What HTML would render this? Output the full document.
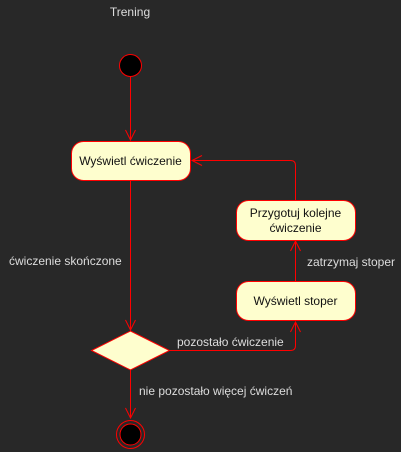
<!DOCTYPE html>
<html><head><meta charset="utf-8"><style>
html,body{margin:0;padding:0;background:#282828;}
svg{display:block;}
text{font-family:"Liberation Sans",sans-serif;font-size:12px;}
</style></head><body>
<svg width="401" height="452" viewBox="0 0 401 452" xmlns="http://www.w3.org/2000/svg">
<rect width="401" height="452" fill="#282828"/>
<text x="130" y="16" fill="#dddddd" text-anchor="middle">Trening</text>
<circle cx="130.5" cy="65.5" r="11" fill="#000" stroke="#ff0000" stroke-width="1"/>
<g stroke="#ff0000" stroke-width="1" fill="none">
<line x1="130.5" y1="76" x2="130.5" y2="140"/>
<polyline points="125.5,130 130.5,140 135.5,130"/>
<line x1="130.5" y1="180" x2="130.5" y2="330"/>
<polyline points="125.5,320 130.5,330 135.5,320"/>
<line x1="130.5" y1="370" x2="130.5" y2="418"/>
<polyline points="125.5,408 130.5,418 135.5,408"/>
<path d="M169,350.5 H290.5 Q295.5,350.5 295.5,345.5 V322"/>
<polyline points="290.5,332 295.5,322 300.5,332"/>
<line x1="295.5" y1="281" x2="295.5" y2="241"/>
<polyline points="290.5,251 295.5,241 300.5,251"/>
<path d="M295.5,200 V165.5 Q295.5,160.5 290.5,160.5 H192"/>
<polyline points="202,155.5 192,160.5 202,165.5"/>
</g>
<rect x="71.5" y="141.5" width="119" height="39" rx="12" fill="#fefece" stroke="#ff0000"/>
<text x="130.5" y="165" fill="#111" text-anchor="middle">Wyświetl ćwiczenie</text>
<rect x="236.5" y="200.5" width="119" height="40" rx="12" fill="#fefece" stroke="#ff0000"/>
<text x="295.5" y="217" fill="#111" text-anchor="middle">Przygotuj kolejne</text>
<text x="295.5" y="232" fill="#111" text-anchor="middle">ćwiczenie</text>
<rect x="236.5" y="281.5" width="119" height="39" rx="12" fill="#fefece" stroke="#ff0000"/>
<text x="295.5" y="305" fill="#111" text-anchor="middle">Wyświetl stoper</text>
<polygon points="130.5,331 169.5,350.5 130.5,370 91.5,350.5" fill="#fefece" stroke="#ff0000"/>
<circle cx="130.5" cy="434.5" r="14" fill="none" stroke="#ff0000"/>
<circle cx="130.5" cy="434.5" r="10.5" fill="#000" stroke="#ff0000"/>
<g fill="#dddddd">
<text x="9" y="265">ćwiczenie skończone</text>
<text x="307" y="266">zatrzymaj stoper</text>
<text x="177" y="346">pozostało ćwiczenie</text>
<text x="139" y="395">nie pozostało więcej ćwiczeń</text>
</g>
</svg>
</body></html>
